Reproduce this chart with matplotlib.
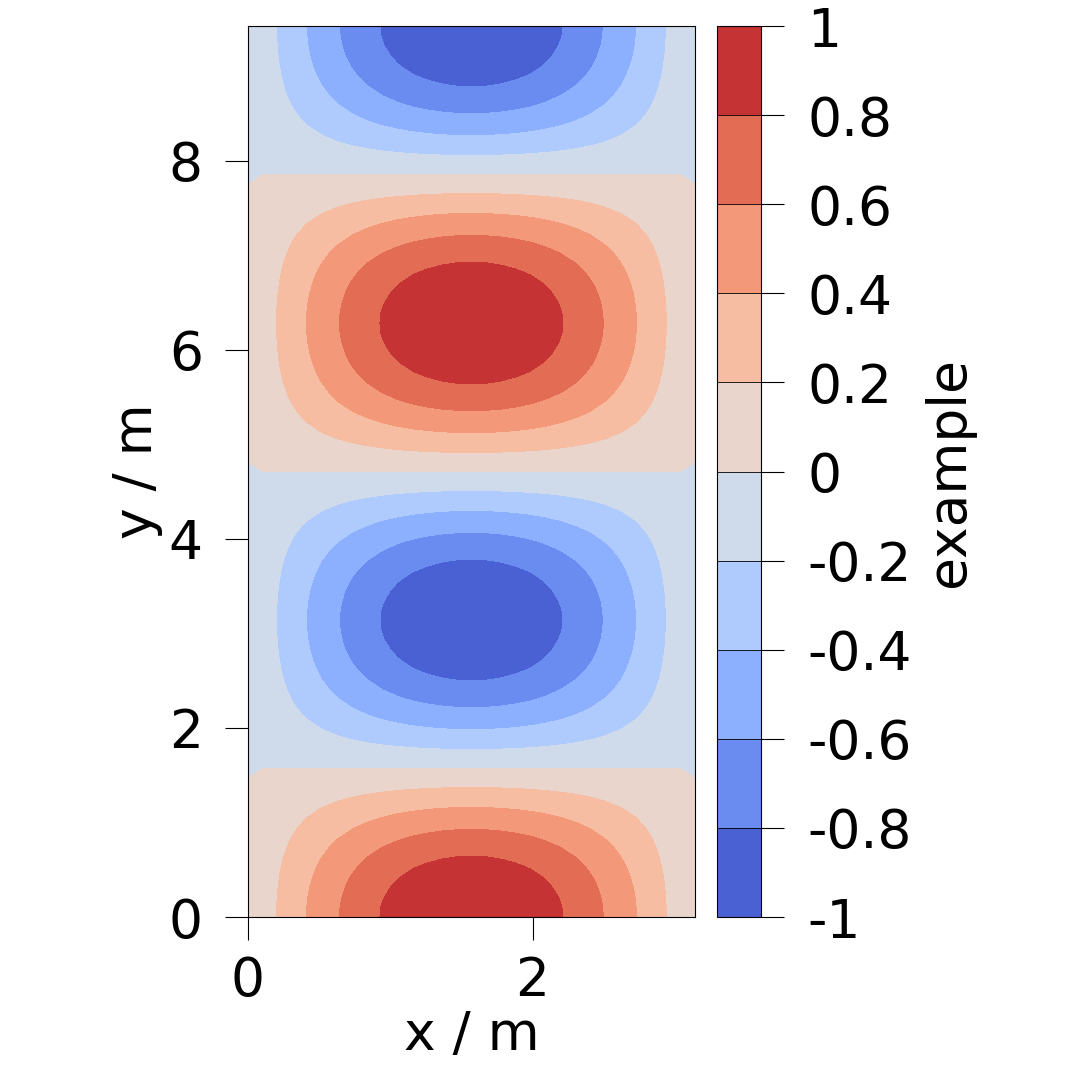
import numpy as np
import matplotlib
matplotlib.use("Agg")
import matplotlib.pyplot as plt

plt.rcParams['axes.unicode_minus'] = False
plt.rcParams['font.family'] = ['DejaVu Sans']

# grid coordinates (m) and the separable field profiles
x_vals = [0.0, 0.105, 0.209, 0.314, 0.419, 0.524, 0.628, 0.733, 0.838, 0.942, 1.047,
          1.152, 1.257, 1.361, 1.466, 1.571, 1.676, 1.780, 1.885, 1.990, 2.094,
          2.199, 2.304, 2.409, 2.513, 2.618, 2.723, 2.827, 2.932, 3.037, 3.142]
x_profile = [0.0, 0.105, 0.208, 0.309, 0.407, 0.5, 0.588, 0.669, 0.743, 0.809, 0.866,
             0.914, 0.951, 0.978, 0.995, 1.0, 0.995, 0.978, 0.951, 0.914, 0.866,
             0.809, 0.743, 0.669, 0.588, 0.5, 0.407, 0.309, 0.208, 0.105, 0.0]

y_start, y_end, y_count = 0.0, 9.425, 91
y_profile = [1.0, 0.995, 0.978, 0.951, 0.914, 0.866, 0.809, 0.743, 0.669, 0.588, 0.5,
             0.407, 0.309, 0.208, 0.105, 0.0,
             -0.105, -0.208, -0.309, -0.407, -0.5, -0.588, -0.669, -0.743, -0.809,
             -0.866, -0.914, -0.951, -0.978, -0.995, -1.0,
             -0.995, -0.978, -0.951, -0.914, -0.866, -0.809, -0.743, -0.669, -0.588,
             -0.5, -0.407, -0.309, -0.208, -0.105, 0.0,
             0.105, 0.208, 0.309, 0.407, 0.5, 0.588, 0.669, 0.743, 0.809,
             0.866, 0.914, 0.951, 0.978, 0.995, 1.0,
             0.995, 0.978, 0.951, 0.914, 0.866, 0.809, 0.743, 0.669, 0.588,
             0.5, 0.407, 0.309, 0.208, 0.105, 0.0,
             -0.105, -0.208, -0.309, -0.407, -0.5, -0.588, -0.669, -0.743, -0.809,
             -0.866, -0.914, -0.951, -0.978, -0.995, -1.0]

levels = [-1, -0.8, -0.6, -0.4, -0.2, 0, 0.2, 0.4, 0.6, 0.8, 1]
cbar_ticks = [-1, -0.8, -0.6, -0.4, -0.2, 0, 0.2, 0.4, 0.6, 0.8, 1]
cbar_ticklabels = ['-1', '-0.8', '-0.6', '-0.4', '-0.2', '0', '0.2', '0.4', '0.6', '0.8', '1']
x_ticks = [0, 2]
y_ticks = [0, 2, 4, 6, 8]

y_vals = np.linspace(y_start, y_end, y_count)
Z = np.outer(np.array(y_profile), np.array(x_profile))

FS = 38.5
fig = plt.figure(figsize=(10.8, 10.8), dpi=100)
ax = fig.add_axes([0.2296, 0.1509, 0.4139, 0.8250])
cax = fig.add_axes([0.6639, 0.1509, 0.0407, 0.8250])

cf = ax.contourf(np.array(x_vals), y_vals, Z, levels=levels, cmap='coolwarm')
ax.set_xlim(x_vals[0], x_vals[-1])
ax.set_ylim(y_start, y_end)
ax.set_xticks(x_ticks)
ax.set_xticklabels([str(t) for t in x_ticks])
ax.set_yticks(y_ticks)
ax.set_yticklabels([str(t) for t in y_ticks])
ax.tick_params(axis='both', direction='out', length=16.5, width=0.8, labelsize=FS)
ax.tick_params(axis='x', pad=11)
ax.tick_params(axis='y', pad=16)
ax.set_xlabel('x / m', fontsize=FS, labelpad=1)
ax.set_ylabel('y / m', fontsize=FS, labelpad=4)

cb = fig.colorbar(cf, cax=cax, drawedges=True)
cb.set_ticks(cbar_ticks)
cb.set_ticklabels(cbar_ticklabels)
cb.ax.tick_params(direction='out', length=16.5, width=0.8, labelsize=FS, pad=17)
cb.dividers.set_linewidth(0.6)
cb.outline.set_linewidth(0.8)
cb.set_label('example', fontsize=FS, labelpad=8)

fig.savefig('out.png', dpi=100)
